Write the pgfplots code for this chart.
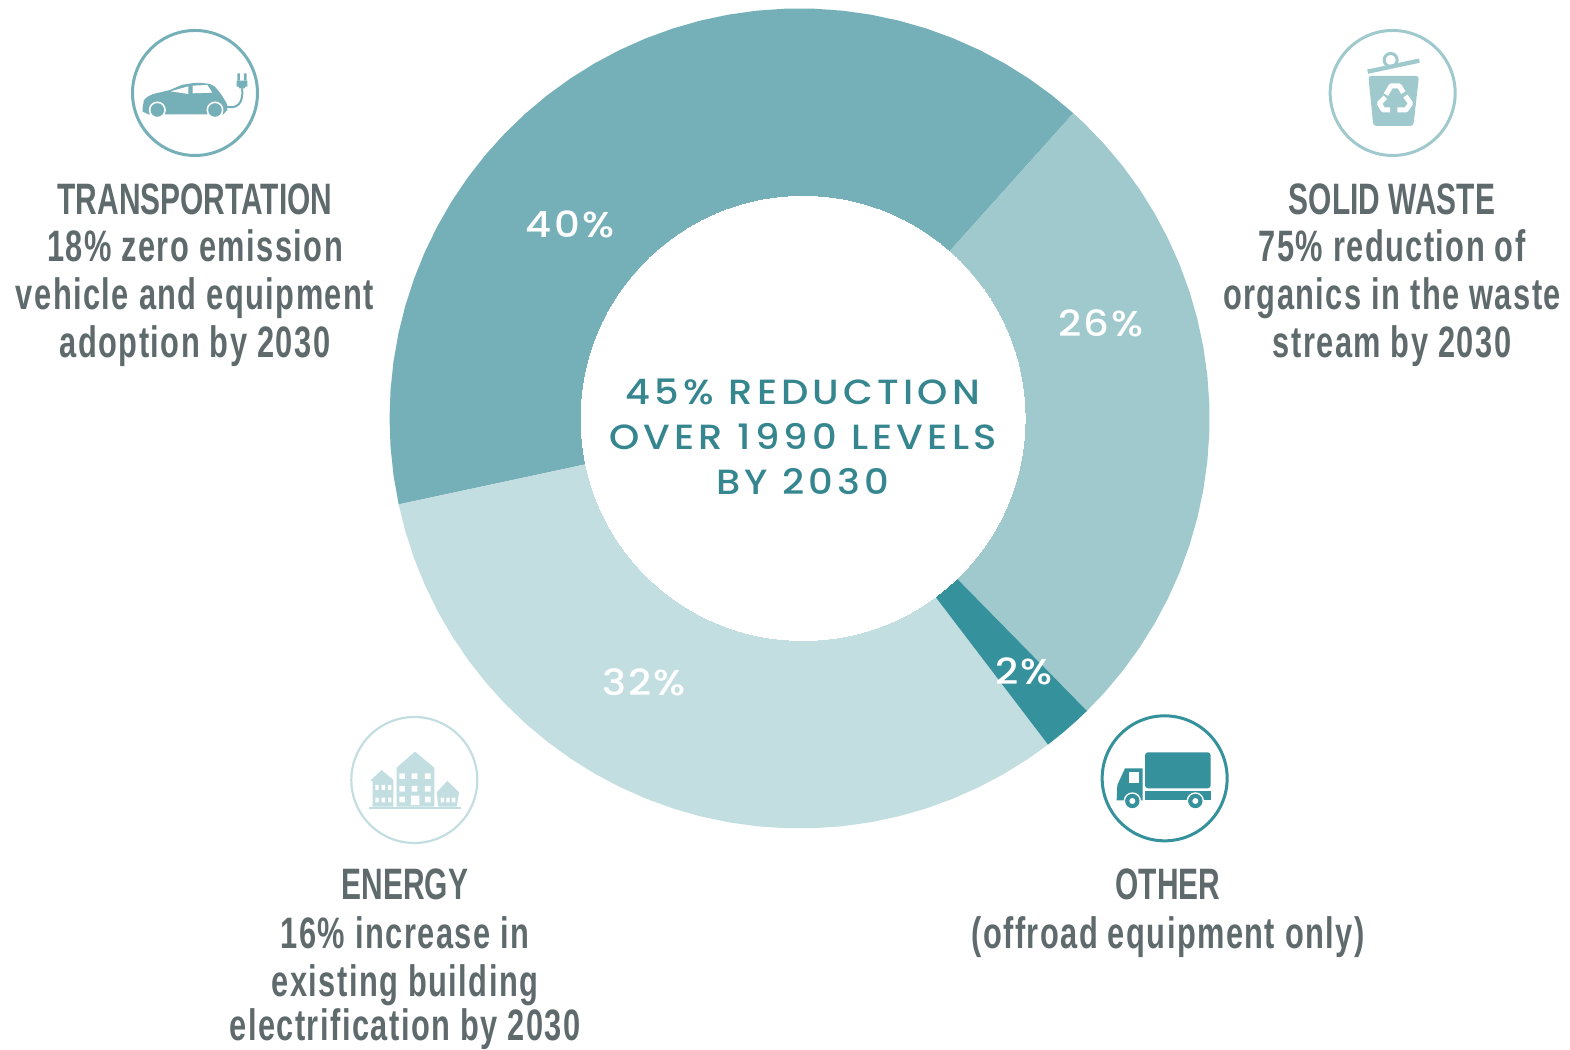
\documentclass[border=0pt]{standalone}
\usepackage{fontspec}
\usepackage{pgfplots}
\pgfplotsset{compat=1.18}
\setmainfont{Liberation Sans}
\newfontfamily\cond[FakeStretch=0.70,LetterSpace=3.3]{Liberation Sans Bold}
\newfontfamily\condcap[FakeStretch=0.68]{Liberation Sans Bold}
\newfontfamily\geo[LetterSpace=12,FakeStretch=1.1]{Poppins Medium}
\newfontfamily\geop[LetterSpace=6,FakeStretch=1.12]{Poppins Medium}
\definecolor{cA}{HTML}{75B0B9}
\definecolor{cB}{HTML}{9FC9CD}
\definecolor{cC}{HTML}{35919B}
\definecolor{cD}{HTML}{C3DEE1}
\definecolor{txt}{HTML}{5F6A6C}
\definecolor{tl}{HTML}{35868F}
\newcommand{\tline}[3]{\node[anchor=base,inner sep=0pt,text=txt] at (#1,#2) {\fontsize{44}{48}\selectfont\cond #3};}
\newcommand{\tcap}[3]{\node[anchor=base,inner sep=0pt,text=txt] at (#1,#2) {\fontsize{44}{48}\selectfont\condcap #3};}
\newcommand{\cenline}[2]{\node[anchor=base,inner sep=0pt,text=tl] at (803,#1) {\fontsize{35}{45}\selectfont\geo #2};}
\newcommand{\pline}[3]{\node[anchor=center,inner sep=0pt,text=white] at (#1,#2) {\fontsize{36}{40}\selectfont\geop #3};}
\begin{document}
\begin{tikzpicture}
\useasboundingbox (0,0) rectangle (1570pt,1049pt);
\begin{axis}[at={(0,0)},anchor=south west,scale only axis,width=1570pt,height=1049pt,
  xmin=-799.5,xmax=770.5,ymin=-630.5,ymax=418.5,hide axis,clip=false]
% 40 %
\addplot[fill=cA,draw=none,data cs=polar] coordinates {(0,0)(48.1,410)(52,410)(56,410)(60,410)(64,410)(68,410)(72,410)(76,410)(80,410)(84,410)(88,410)(92,410)(96,410)(100,410)(104,410)(108,410)(112,410)(116,410)(120,410)(124,410)(128,410)(132,410)(136,410)(140,410)(144,410)(148,410)(152,410)(156,410)(160,410)(164,410)(168,410)(172,410)(176,410)(180,410)(184,410)(188,410)(192.1,410)(0,0)};
% 26 %
\addplot[fill=cB,draw=none,data cs=polar] coordinates {(0,0)(-45.5,410)(-42,410)(-38,410)(-34,410)(-30,410)(-26,410)(-22,410)(-18,410)(-14,410)(-10,410)(-6,410)(-2,410)(2,410)(6,410)(10,410)(14,410)(18,410)(22,410)(26,410)(30,410)(34,410)(38,410)(42,410)(46,410)(48.1,410)(0,0)};
% 32 %
\addplot[fill=cD,draw=none,data cs=polar] coordinates {(0,0)(192.1,410)(196,410)(200,410)(204,410)(208,410)(212,410)(216,410)(220,410)(224,410)(228,410)(232,410)(236,410)(240,410)(244,410)(248,410)(252,410)(256,410)(260,410)(264,410)(268,410)(272,410)(276,410)(280,410)(284,410)(288,410)(292,410)(296,410)(300,410)(304,410)(307.3,410)(0,0)};
% 2 %
\addplot[fill=cC,draw=none,data cs=polar] coordinates {(0,0)(-52.7,410)(-50,410)(-47.5,410)(-45.5,410)(0,0)};
% hole
\addplot[only marks,mark=*,mark size=222pt,white,mark options={fill=white,draw=white,line width=0pt}] coordinates {(3.5,0)};
\end{axis}
\begin{scope}[shift={(0,1049pt)},x=1pt,y=-1pt]
\cenline{405}{45\% REDUCTION}
\cenline{450}{OVER 1990 LEVELS}
\cenline{495}{BY 2030}
\pline{570}{224}{40\%}
\pline{1101}{323}{26\%}
\pline{644}{682}{32\%}
\pline{1024}{671}{2\%}
\tcap{195}{215}{TRANSPORTATION}
\tline{195}{262}{18\% zero emission}
\tline{195}{310}{vehicle and equipment}
\tline{195}{358}{adoption by 2030}
\tcap{1392}{215}{SOLID WASTE}
\tline{1392}{262}{75\% reduction of}
\tline{1392}{310}{organics in the waste}
\tline{1392}{358}{stream by 2030}
\tcap{405}{900}{ENERGY}
\tline{405}{948}{16\% increase in}
\tline{405}{996}{existing building}
\tline{405}{1040}{electrification by 2030}
\tcap{1168}{900}{OTHER}
\tline{1168}{948}{(offroad equipment only)}
% car
\begin{scope}[shift={(120,20)},x=0.3333pt,y=-0.3333pt]
\draw[cA,line width=3pt] (225,219) circle[radius=62.5pt];
\fill[cA] (68,262) -- (72,240) .. controls (85,228) .. (100,222) -- (150,210) -- (185,195) .. controls (230,187) .. (270,192) -- (285,200) -- (305,225) -- (320,250) -- (322,270) -- (310,283) -- (85,283) -- (68,275) -- cycle;
\fill[white] (152,214) -- (205,199) -- (205,222) -- cycle;
\fill[white] (218,197) -- (262,195) -- (277,218) -- (218,220) -- cycle;
\fill[white] (112,270) circle[radius=8.5pt]; \fill[cA] (112,270) circle[radius=6.8pt];
\fill[white] (285,270) circle[radius=8.5pt]; \fill[cA] (285,270) circle[radius=6.8pt];
\draw[cA,line width=2pt] (320,260) .. controls (350,268) and (372,250) .. (366,205);
\fill[cA] (350,182) rectangle (382,200) (358,205) -- (374,205) -- (378,195) -- (354,195) -- cycle;
\fill[cA] (352,160) rectangle (360,182) (372,160) rectangle (380,182);
\end{scope}
% bin
\begin{scope}[shift={(1320,20)},x=0.3333pt,y=-0.3333pt]
\draw[cB,line width=3pt] (218,219) circle[radius=62.5pt];
\fill[cB,rounded corners=3pt] (145,168) -- (297,168) -- (280,318) -- (160,318) -- cycle;
\draw[cB,line width=4.3pt] (143,155) -- (298,122);
\draw[cB,line width=3pt] (212,120) circle[radius=6.5pt];
\draw[white,line width=5pt,line join=round] (198,224) -- (213,198) -- (238,198) -- (250,218);
\draw[white,line width=5pt,line join=round] (196,232) -- (178,250) -- (190,270) -- (210,270);
\draw[white,line width=5pt,line join=round] (256,228) -- (272,250) -- (258,270) -- (232,270);
\end{scope}
% buildings
\begin{scope}[shift={(340,705)},x=0.3333pt,y=-0.3333pt]
\draw[cD,line width=2.2pt] (223,225) circle[radius=63pt];
\fill[cD] (170,188) -- (225,140) -- (283,188) -- (283,305) -- (170,305) -- cycle;
\fill[cD] (90,228) -- (125,195) -- (160,225) -- (160,305) -- (98,305) -- (98,228) -- cycle;
\fill[cD] (290,262) -- (322,228) -- (357,262) -- (350,305) -- (295,305) -- cycle;
\fill[cD] (88,305) rectangle (362,311);
\fill[white] (178,205) rectangle (195,222) (215,205) rectangle (232,222) (255,205) rectangle (272,222);
\fill[white] (178,243) rectangle (195,260) (215,243) rectangle (232,260) (255,243) rectangle (272,260);
\fill[white] (178,275) rectangle (195,292) (255,275) rectangle (272,292) (213,272) rectangle (238,300);
\fill[white] (106,240) rectangle (116,255) (125,240) rectangle (135,255) (144,240) rectangle (154,255);
\fill[white] (106,278) rectangle (116,292) (125,278) rectangle (135,292) (144,278) rectangle (154,292);
\fill[white] (302,278) rectangle (312,292) (319,278) rectangle (329,292) (336,278) rectangle (346,292);
\end{scope}
% truck
\begin{scope}[shift={(1090,705)},x=0.3333pt,y=-0.3333pt]
\draw[cC,line width=3pt] (224,220) circle[radius=62.5pt];
\fill[cC,rounded corners=3pt] (165,142) rectangle (362,250);
\fill[cC] (165,258) rectangle (362,286);
\fill[cC] (158,190) -- (105,190) -- (82,240) -- (80,286) -- (158,286) -- cycle;
\fill[white] (118,202) rectangle (148,235);
\fill[white] (127,288) circle[radius=8.7pt]; \fill[cC] (127,288) circle[radius=7.2pt]; \fill[white] (127,288) circle[radius=3pt];
\fill[white] (316,288) circle[radius=8.7pt]; \fill[cC] (316,288) circle[radius=7.2pt]; \fill[white] (316,288) circle[radius=3pt];
\end{scope}
\end{scope}
\end{tikzpicture}
\end{document}
